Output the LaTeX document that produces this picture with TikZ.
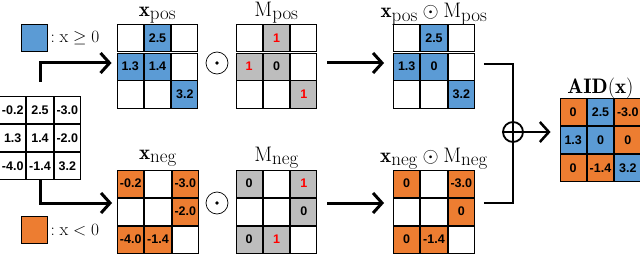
\documentclass[tikz,border=0pt]{standalone}
\usepackage{amsmath,amssymb}
\usepackage{fontspec}
\setsansfont{Liberation Sans}
\usetikzlibrary{arrows.meta,positioning,matrix}
\definecolor{posblue}{HTML}{5B9BD5}
\definecolor{negorange}{HTML}{ED7D31}
\definecolor{maskgray}{HTML}{BDBDBD}
\newcommand{\subtxt}[1]{\mbox{\fontsize{19}{22}\selectfont\rmfamily #1}}
\begin{document}
\begin{tikzpicture}[x=1pt,y=-1pt,
cell/.style={draw,line width=1pt,minimum width=26.3pt,minimum height=27pt,inner sep=0pt,outer sep=0pt,anchor=center,font=\sffamily\bfseries\fontsize{12.5}{12.5}\selectfont},
grid/.style={matrix of nodes,nodes in empty cells,inner sep=0pt,outer sep=0pt,column sep=0pt,row sep=0pt,nodes={cell}},
pc/.style={fill=posblue},nc/.style={fill=negorange},gc/.style={fill=maskgray},rc/.style={text=red},
title/.style={inner sep=0pt,anchor=base,font=\fontsize{21}{25}\selectfont},
legsq/.style={draw,line width=0.8pt,minimum width=26pt,minimum height=27pt,inner sep=0pt},
legtxt/.style={inner sep=0pt,font=\fontsize{18}{22}\selectfont},
odot/.style={circle,draw,line width=0.7pt,minimum size=22pt,inner sep=0pt,path picture={\fill (path picture bounding box.center) circle (1.8pt);}},
oplus/.style={circle,draw,line width=1.8pt,minimum size=20pt,inner sep=0pt,path picture={\draw[line width=1.8pt] (path picture bounding box.west) -- (path picture bounding box.east) (path picture bounding box.north) -- (path picture bounding box.south);}},
arr/.style={-{Straight Barb[length=9pt,width=20pt]},line width=3pt},
merge/.style={line width=2.5pt}]
\useasboundingbox (0,0) rectangle (640,254);
% input and legend
\matrix[grid] (xin) at (40,138) {
-0.2 & 2.5 & -3.0 \\
1.3 & 1.4 & -2.0 \\
-4.0 & -1.4 & 3.2 \\
};
\node[legsq,fill=posblue] (legpos) at (34,38) {};
\node[legtxt,right=3pt of legpos] (legposlbl) {$:\mathrm{x}\geq 0$};
\node[legsq,fill=negorange] (legneg) at (34,230) {};
\node[legtxt,right=3pt of legneg] (legneglbl) {$:\mathrm{x}<0$};
% positive branch
\matrix[grid] (xpos) at (157.5,66.5) {
 & |[pc]| 2.5 & \\
|[pc]| 1.3 & |[pc]| 1.4 & \\
 & & |[pc]| 3.2 \\
};
\node[odot] (dotpos) at (217,63) {};
\matrix[grid] (mpos) at (276.5,66.5) {
 & |[gc,rc]| 1 & \\
|[gc,rc]| 1 & |[gc]| 0 & \\
 & & |[gc,rc]| 1 \\
};
\matrix[grid] (ppos) at (434,66.5) {
 & |[pc]| 2.5 & \\
|[pc]| 1.3 & |[pc]| 0 & \\
 & & |[pc]| 3.2 \\
};
\node[title] (xposlbl) at ([yshift=8pt]xpos.north) {$\mathbf{x}_{\subtxt{pos}}$};
\node[title] (mposlbl) at ([yshift=8pt]mpos.north) {$\mathrm{M}_{\subtxt{pos}}$};
\node[title] (pposlbl) at ([yshift=6.5pt]ppos.north) {$\mathbf{x}_{\subtxt{pos}}\odot\mathrm{M}_{\subtxt{pos}}$};
% negative branch
\matrix[grid] (xneg) at (158,211.5) {
|[nc]| -0.2 & & |[nc]| -3.0 \\
 & & |[nc]| -2.0 \\
|[nc]| -4.0 & |[nc]| -1.4 & \\
};
\node[odot] (dotneg) at (217,203) {};
\matrix[grid] (mneg) at (276.5,211.5) {
|[gc]| 0 & & |[gc,rc]| 1 \\
 & & |[gc]| 0 \\
|[gc]| 0 & |[gc,rc]| 1 & \\
};
\matrix[grid] (pneg) at (434,211.5) {
|[nc]| 0 & & |[nc]| -3.0 \\
 & & |[nc]| 0 \\
|[nc]| 0 & |[nc]| -1.4 & \\
};
\node[title] (xneglbl) at ([yshift=10pt]xneg.north) {$\mathbf{x}_{\subtxt{neg}}$};
\node[title] (mneglbl) at ([yshift=8pt]mneg.north) {$\mathrm{M}_{\subtxt{neg}}$};
\node[title] (pneglbl) at ([yshift=7pt]pneg.north) {$\mathbf{x}_{\subtxt{neg}}\odot\mathrm{M}_{\subtxt{neg}}$};
% merge
\node[oplus] (sum) at (513,132) {};
\matrix[grid] (aid) at (600.5,140) {
|[nc]| 0 & |[pc]| 2.5 & |[nc]| -3.0 \\
|[pc]| 1.3 & |[pc]| 0 & |[nc]| 0 \\
|[nc]| 0 & |[nc]| -1.4 & |[pc]| 3.2 \\
};
\node[title] (aidlbl) at ([yshift=5pt]aid.north) {$\mathbf{AID}(\mathbf{x})$};
\draw[arr,shorten <=14pt,shorten >=5pt] (xin.north) |- ([yshift=3.5pt]xpos.west);
\draw[arr,shorten >=5pt] (xin.south) |- ([yshift=8.5pt]xneg.west);
\draw[arr,shorten <=10pt,shorten >=9pt] ([yshift=3.5pt]mpos.east) -- ([yshift=3.5pt]ppos.west);
\draw[arr,shorten <=10pt,shorten >=9pt] ([yshift=8.5pt]mneg.east) -- ([yshift=8.5pt]pneg.west);
\draw[merge,shorten <=9pt] ([yshift=2.5pt]ppos.east) -| (sum.north);
\draw[merge,shorten <=9pt] ([yshift=8.5pt]pneg.east) -| (sum.south);
\draw[arr,line width=2.5pt,shorten >=9pt] (sum.east) -- ([yshift=8pt]aid.west);
\end{tikzpicture}
\end{document}
